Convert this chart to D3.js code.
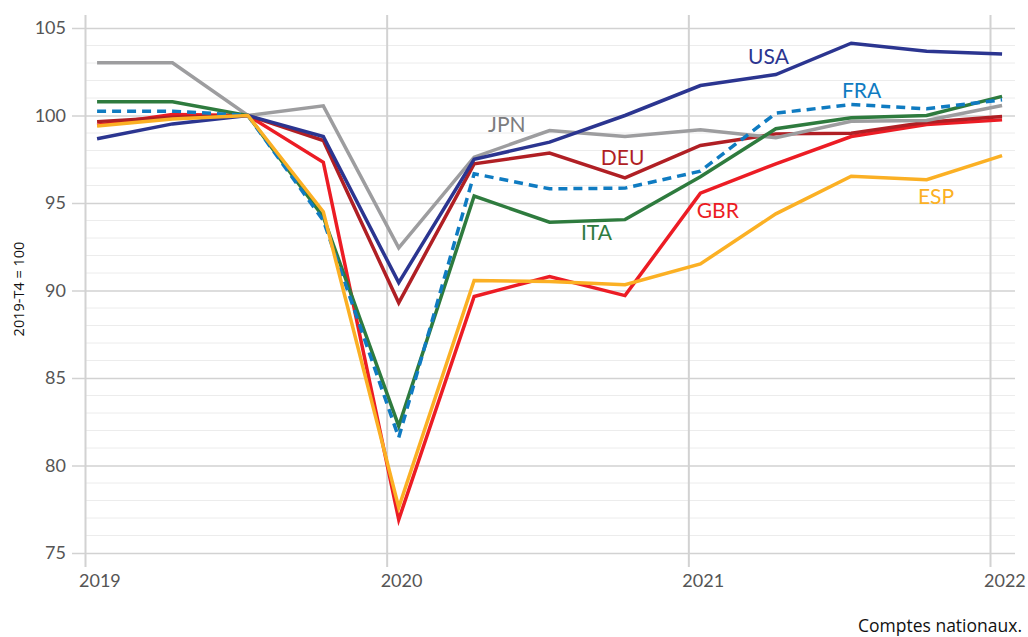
<!DOCTYPE html>
<meta charset="utf-8">
<style>

body {
  margin: 0;
  background: #fff;
  font-family: Lato, sans-serif;
}

.line {
  fill: none;
  stroke-width: 3.5px;
  stroke-linejoin: miter;
}

</style>
<body>
  <script src="https://d3js.org/d3.v7.min.js"></script>
  <script>

    // quarters 2019-T1 .. 2022-T1
    var quarters = ["2019-T1","2019-T2","2019-T3","2019-T4",
                    "2020-T1","2020-T2","2020-T3","2020-T4",
                    "2021-T1","2021-T2","2021-T3","2021-T4",
                    "2022-T1"];

    var usa = [98.67, 99.52, 100.0, 98.8, 90.45, 97.5, 98.48, 100.0, 101.71, 102.34, 104.13, 103.67, 103.52];
    var jpn = [103.01, 103.01, 100.0, 100.55, 92.44, 97.62, 99.14, 98.8, 99.18, 98.73, 99.67, 99.71, 100.57];
    var deu = [99.65, 99.9, 100.0, 98.57, 89.3, 97.24, 97.85, 96.44, 98.29, 98.95, 98.99, 99.62, 99.94];
    var fra = [100.25, 100.25, 100.0, 94.0, 81.6, 96.67, 95.81, 95.85, 96.82, 100.13, 100.63, 100.38, 100.9];
    var ita = [100.78, 100.78, 100.0, 94.2, 82.25, 95.4, 93.9, 94.05, 96.5, 99.24, 99.87, 100.0, 101.09];
    var gbr = [99.45, 100.05, 100.0, 97.33, 76.91, 89.66, 90.8, 89.71, 95.56, 97.24, 98.8, 99.49, 99.75];
    var esp = [99.4, 99.8, 100.0, 94.5, 77.6, 90.57, 90.51, 90.33, 91.52, 94.38, 96.53, 96.33, 97.71];

    var yearTicks = [2019, 2020, 2021, 2022];
    var valueTicks = [75, 80, 85, 90, 95, 100, 105];

    var series = [
      {name: "GBR", values: gbr, color: "#ec1c24"},
      {name: "DEU", values: deu, color: "#b01f24"},
      {name: "JPN", values: jpn, color: "#9d9d9f", labelColor: "#7c7c7e"},
      {name: "ITA", values: ita, color: "#2e7b3e"},
      {name: "FRA", values: fra, color: "#0f7bc1", dash: "9,6"},
      {name: "USA", values: usa, color: "#2b3590"},
      {name: "ESP", values: esp, color: "#fbb024"}
    ];

    // label anchors, in data units (year, index value)
    var labelSpots = {
      USA: [2021.198, 102.97],
      FRA: [2021.509, 100.99],
      JPN: [2020.336, 99.03],
      DEU: [2020.71, 97.2],
      ITA: [2020.644, 92.91],
      GBR: [2021.028, 94.17],
      ESP: [2021.761, 94.97]
    };

    var width = 1028, height = 637;
    var plot = {left: 85, right: 1015, top: 15, bottom: 567};

    function qTime(q) {
      var p = q.split("-T");
      return +p[0] + (+p[1] - 1) / 4 + 0.04;
    }

    var x = d3.scaleLinear()
        .domain([2019, 2022])
        .range([85, 990]);

    var y = d3.scaleLinear()
        .domain([75, 105])
        .range([553, 28]);

    var svg = d3.select("body").append("svg")
        .attr("width", width)
        .attr("height", height);

    // minor grid (every 1 point)
    svg.append("g")
      .selectAll("line")
      .data(d3.range(75, 106).filter(function(v) { return v % 5 !== 0; }))
      .enter().append("line")
        .attr("x1", plot.left).attr("x2", plot.right)
        .attr("y1", function(d) { return y(d); })
        .attr("y2", function(d) { return y(d); })
        .attr("stroke", "#ececec")
        .attr("stroke-width", 1);

    // major grid, starting a little left of the plot as ticks
    var gy = svg.append("g")
        .attr("transform", "translate(" + 72 + ",0)")
        .call(d3.axisRight(y).tickValues(valueTicks).tickSize(plot.right - 72).tickFormat(""));
    gy.select(".domain").remove();
    gy.selectAll(".tick line").attr("stroke", "#d2d2d2").attr("stroke-width", 1.5);

    svg.append("g")
      .selectAll("text")
      .data(valueTicks)
      .enter().append("text")
        .attr("x", 66)
        .attr("y", function(d) { return y(d); })
        .attr("dy", "0.35em")
        .attr("text-anchor", "end")
        .attr("fill", "#555")
        .style("font-size", "18px")
        .text(function(d) { return d; });

    // vertical year lines
    var gx = svg.append("g")
        .attr("transform", "translate(0," + plot.bottom + ")")
        .call(d3.axisTop(x).tickValues(yearTicks).tickSize(plot.bottom - plot.top).tickFormat(""));
    gx.select(".domain").remove();
    gx.selectAll(".tick line").attr("stroke", "#d2d2d2").attr("stroke-width", 2);

    svg.append("g")
      .selectAll("text")
      .data(yearTicks)
      .enter().append("text")
        .attr("x", function(d) { return x(d) - 6; })
        .attr("y", 587)
        .attr("fill", "#555")
        .style("font-size", "18px")
        .text(function(d) { return d; });

    // series
    var line = d3.line()
        .x(function(d, i) { return x(qTime(quarters[i])); })
        .y(function(d) { return y(d); });

    svg.append("g")
      .selectAll("path")
      .data(series)
      .enter().append("path")
        .attr("class", "line")
        .attr("stroke", function(d) { return d.color; })
        .attr("stroke-dasharray", function(d) { return d.dash || null; })
        .attr("d", function(d) { return line(d.values); });

    // labels
    svg.append("g")
      .selectAll("text")
      .data(series)
      .enter().append("text")
        .attr("x", function(d) { return x(labelSpots[d.name][0]); })
        .attr("y", function(d) { return y(labelSpots[d.name][1]); })
        .attr("fill", function(d) { return d.labelColor || d.color; })
        .style("font-size", "21px")
        .text(function(d) { return d.name; });

    // y title
    svg.append("text")
        .attr("transform", "translate(24,289) rotate(-90)")
        .attr("text-anchor", "middle")
        .attr("fill", "#111")
        .style("font-family", "'Open Sans', sans-serif")
        .style("font-size", "14.5px")
        .text("2019-T4 = 100");

    // source
    svg.append("text")
        .attr("x", 1022)
        .attr("y", 632)
        .attr("text-anchor", "end")
        .attr("fill", "#111")
        .style("font-family", "'Open Sans', sans-serif")
        .style("font-size", "17.5px")
        .text("Comptes nationaux.");

  </script>
</body>
</html>
